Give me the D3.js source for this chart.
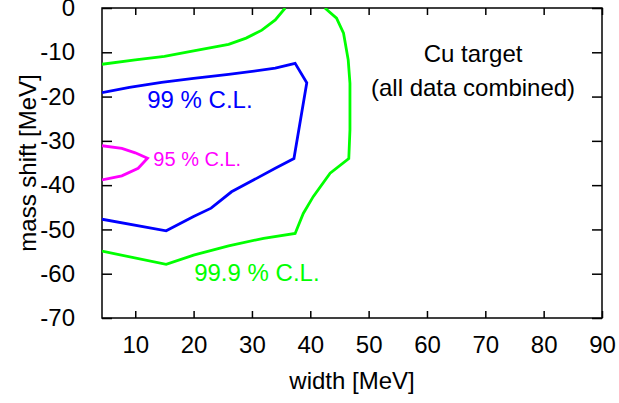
<!DOCTYPE html>
<html>
<head>
<meta charset="utf-8">
<script src="https://cdn.jsdelivr.net/npm/d3@7"></script>
<style>
  body { margin: 0; background: #fff; }
  svg { display: block; font-family: "Liberation Sans", Arial, Helvetica, sans-serif; }
</style>
</head>
<body>
<div id="chart"></div>
<script>
// Contour lines: [width, mass shift]
const cl999Upper = [
  [4.3, -12.7], [10, -11.7], [15, -10.9], [20, -9.7], [26, -8.2],
  [29, -6.8], [31.7, -5], [34, -2.7], [35.7, 0]
];
const cl999Lower = [
  [42.5, 0], [44.5, -2.3], [45.7, -5.7], [46.5, -11.7], [46.8, -17],
  [46.8, -27.5], [46.6, -34], [43.4, -37.3], [40.5, -42.6], [38.8, -46.4],
  [37.4, -50.9], [32, -52], [26, -53.7], [20, -55.8], [15.3, -57.9], [4.3, -54.9]
];
const cl99 = [
  [4.3, -19.1], [9, -17.9], [14.5, -16.8], [20, -15.9], [26, -15], [34, -13.6],
  [37.4, -12.5], [39.4, -16.9], [37.2, -34], [34, -36.2], [26.5, -41.5],
  [23, -45.2], [20, -47.1], [15.3, -50.3], [4.3, -47.7]
];
const cl95 = [
  [4.3, -31.1], [7.7, -31.7], [10, -32.7], [12.1, -33.9], [10.5, -36.2],
  [7.7, -37.9], [4.3, -38.8]
];

const xTicks = [10, 20, 30, 40, 50, 60, 70, 80, 90];
const yTicks = [0, -10, -20, -30, -40, -50, -60, -70];

const width = 619, height = 403;
const margin = { top: 8, right: 17, bottom: 85, left: 102 };
const innerWidth = width - margin.left - margin.right;
const innerHeight = height - margin.top - margin.bottom;

const xScale = d3.scaleLinear().domain([4.3, 90]).range([0, innerWidth]);
const yScale = d3.scaleLinear().domain([-70, 0]).range([innerHeight, 0]);

const svg = d3.select("#chart")
  .append("svg")
  .attr("width", width)
  .attr("height", height)
  .append("g")
  .attr("transform", `translate(${margin.left},${margin.top})`);

svg.append("clipPath")
  .attr("id", "plot-clip")
  .append("rect")
  .attr("width", innerWidth)
  .attr("height", innerHeight);

// Axes: ticks point inward, mirrored on top and right
const styleAxis = g => {
  g.select(".domain").remove();
  g.selectAll(".tick line").attr("stroke", "#000").attr("stroke-width", 1.5);
  g.selectAll(".tick text").attr("fill", "#000").attr("font-size", "24px");
};

svg.append("g")
  .attr("transform", `translate(0,${innerHeight})`)
  .call(d3.axisBottom(xScale).tickValues(xTicks).tickSize(-7).tickPadding(18).tickFormat(d => String(d)))
  .call(styleAxis);

svg.append("g")
  .call(d3.axisTop(xScale).tickValues(xTicks).tickSize(-7).tickFormat(""))
  .call(styleAxis);

svg.append("g")
  .call(d3.axisLeft(yScale).tickValues(yTicks).tickSize(-10).tickPadding(27).tickFormat(d => String(d)))
  .call(styleAxis);

svg.append("g")
  .attr("transform", `translate(${innerWidth},0)`)
  .call(d3.axisRight(yScale).tickValues(yTicks).tickSize(-10).tickFormat(""))
  .call(styleAxis);

// Frame
svg.append("rect")
  .attr("width", innerWidth)
  .attr("height", innerHeight)
  .attr("fill", "none")
  .attr("stroke", "#000")
  .attr("stroke-width", 1.5);

// Axis labels
svg.append("text")
  .attr("x", innerWidth / 2)
  .attr("y", innerHeight + 71)
  .attr("text-anchor", "middle")
  .attr("font-size", "24px")
  .text("width [MeV]");

svg.append("text")
  .attr("transform", "rotate(-90)")
  .attr("x", -innerHeight / 2)
  .attr("y", -66)
  .attr("text-anchor", "middle")
  .attr("font-size", "24px")
  .text("mass shift [MeV]");

// Contours
const line = d3.line()
  .x(d => xScale(d[0]))
  .y(d => yScale(d[1]));

const contours = [
  { pts: cl999Upper, color: "#00ff00" },
  { pts: cl999Lower, color: "#00ff00" },
  { pts: cl99, color: "#0000ff" },
  { pts: cl95, color: "#ff00ff" }
];

svg.append("g")
  .attr("clip-path", "url(#plot-clip)")
  .selectAll("path")
  .data(contours)
  .join("path")
  .attr("d", d => line(d.pts))
  .attr("fill", "none")
  .attr("stroke", d => d.color)
  .attr("stroke-width", 2.8)
  .attr("stroke-linejoin", "miter");

// Labels
const labels = [
  { text: "99 % C.L.", x: 12.05, y: -22.6, color: "#0000ff", size: 24, anchor: "start" },
  { text: "95 % C.L.", x: 13.1, y: -35.7, color: "#ff00ff", size: 20, anchor: "start" },
  { text: "99.9 % C.L.", x: 20.1, y: -61.7, color: "#00ff00", size: 24, anchor: "start" },
  { text: "Cu target", x: 67.9, y: -12.1, color: "#000", size: 24, anchor: "middle" },
  { text: "(all data combined)", x: 67.9, y: -19.9, color: "#000", size: 24, anchor: "middle" }
];

svg.selectAll(".label")
  .data(labels)
  .join("text")
  .attr("class", "label")
  .attr("x", d => xScale(d.x))
  .attr("y", d => yScale(d.y))
  .attr("text-anchor", d => d.anchor)
  .attr("font-size", d => d.size + "px")
  .attr("fill", d => d.color)
  .text(d => d.text);
</script>
</body>
</html>
